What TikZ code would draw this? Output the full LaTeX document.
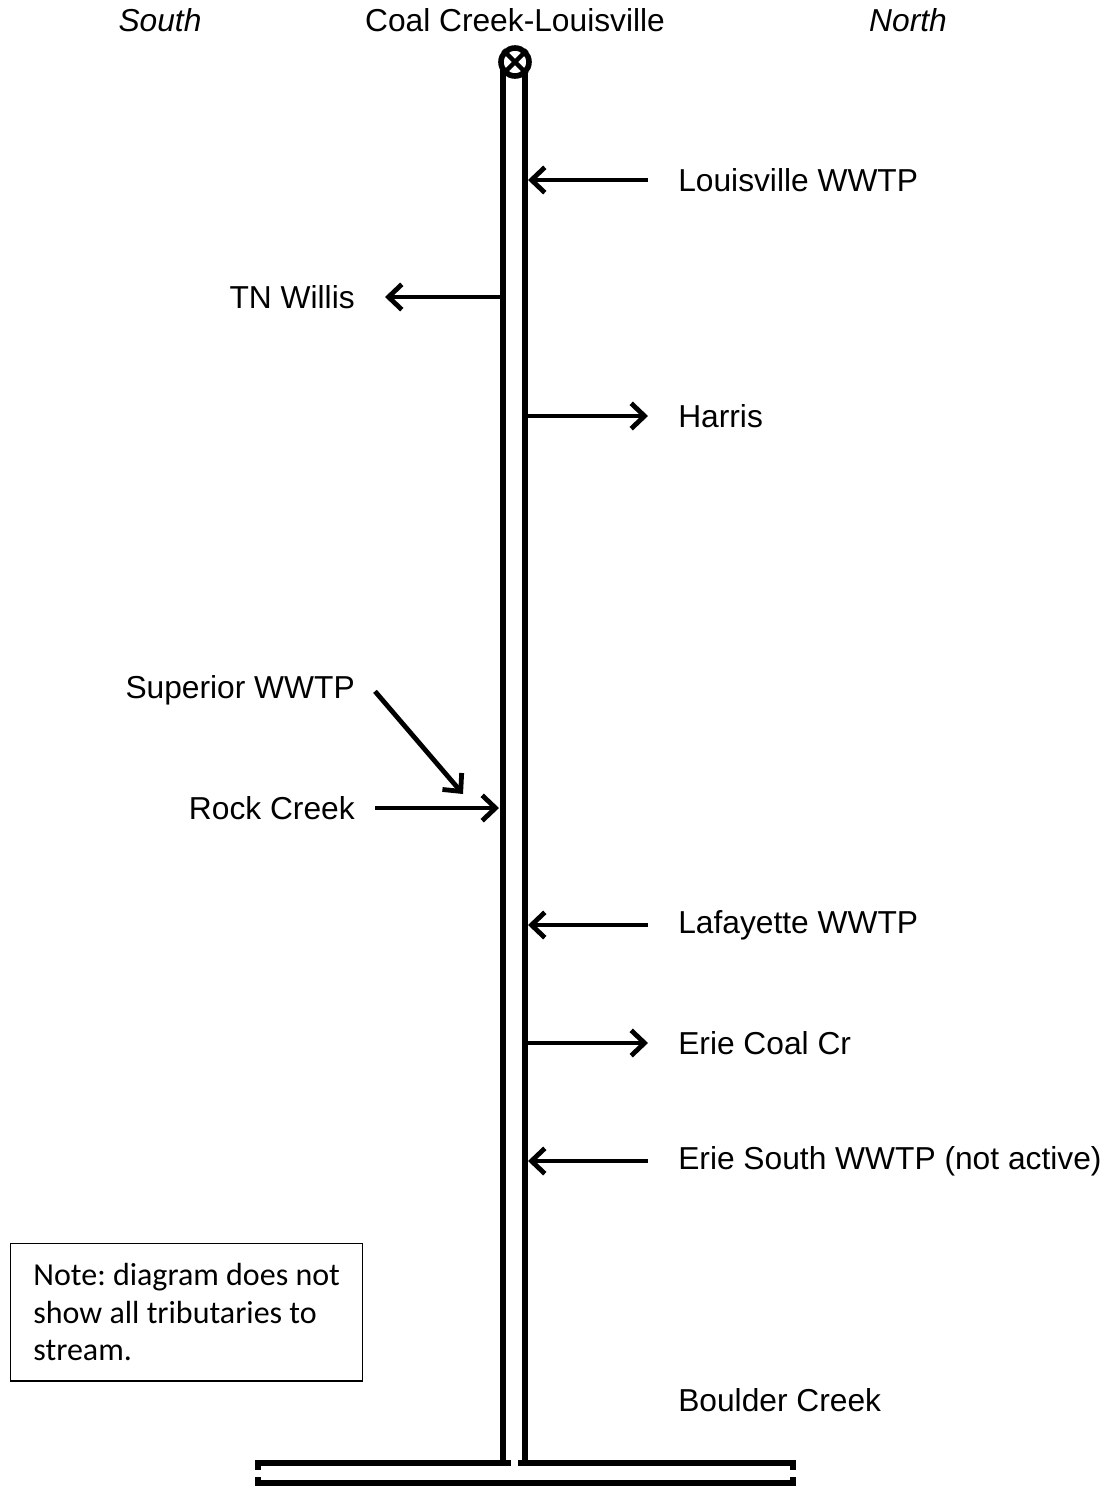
\documentclass[tikz,border=0pt]{standalone}
\usepackage{fontspec}
\setmainfont{Liberation Sans}
\newfontfamily\notefont{Carlito}
\usetikzlibrary{arrows.meta}
\frenchspacing
\begin{document}
\begin{tikzpicture}[x=0.75pt,y=-0.75pt,
  lbl/.style={inner sep=0pt, font=\fontsize{23.8}{28}\selectfont},
  arr/.style={line width=3.6pt, -{Straight Barb[length=10pt,width=19pt]}},
  bank/.style={line width=4.3pt},
  notebox/.style={draw, line width=1pt, anchor=north west, align=left,
    minimum width=264pt, minimum height=103pt, inner xsep=0pt,
    font=\notefont\fontsize{24}{28.2}\selectfont}]
\useasboundingbox (0,0) rectangle (1112,1488);

% headings
\node[lbl, font=\fontsize{23.8}{28}\selectfont\itshape] (south) at (160,20) {South};
\node[lbl] (title) at (515,20) {Coal Creek-Louisville};
\node[lbl, font=\fontsize{23.8}{28}\selectfont\itshape] (north) at (908,20) {North};

% stream banks
\coordinate (LT) at (503,62);  \coordinate (LB) at (503,1463);
\coordinate (RT) at (525,62);  \coordinate (RB) at (525,1463);
\draw[bank] (LT) -- (LB);
\draw[bank] (RT) -- (RB);

% Boulder Creek channel
\coordinate (CL1) at (258,1470); \coordinate (CL2) at (258,1463); \coordinate (CL3) at (511,1463);
\coordinate (CR1) at (518,1463); \coordinate (CR2) at (793,1463); \coordinate (CR3) at (793,1470);
\coordinate (DL1) at (258,1477); \coordinate (DL2) at (258,1483);
\coordinate (DR2) at (793,1483); \coordinate (DR1) at (793,1477);
\draw[bank] (CL1) -- (CL2) -- (CL3);
\draw[bank] (CR1) -- (CR2) -- (CR3);
\draw[bank] (DL1) -- (DL2) -- (DR2) -- (DR1);

% source symbol
\node[circle, draw, fill=white, line width=4.2pt, minimum size=21pt, inner sep=0pt] (src) at (515,62) {};
\draw[line width=3.4pt] (src.north west) -- (src.south east) (src.north east) -- (src.south west);

% right-side labels
\node[lbl, anchor=west] (louis) at (678,180) {Louisville WWTP};
\node[lbl, anchor=west] (harris) at (678,416) {Harris};
\node[lbl, anchor=west] (laf) at (678,925) {Lafayette WWTP};
\node[lbl, anchor=west] (eriec) at (678,1043) {Erie Coal Cr};
\node[lbl, anchor=west] (eries) at (678,1161) {Erie South WWTP (not active)};
\node[lbl, anchor=west] (boulder) at (678,1400) {Boulder Creek};

% left-side labels
\node[lbl, anchor=east] (tn) at (355,297) {TN Willis};
\node[lbl, anchor=east] (sup) at (355,690) {Superior WWTP};
\node[lbl, anchor=east] (rock) at (355,808) {Rock Creek};

% connectors
\coordinate (sL) at (528,180);
\coordinate (sH) at (527,416);
\coordinate (sLa) at (528,925);
\coordinate (sEc) at (527,1043);
\coordinate (sEs) at (528,1161);
\coordinate (sT) at (501,297);
\coordinate (sR) at (499,808);
\coordinate (sS) at (463,794);

\draw[arr, shorten <=22.5pt] (louis.west) -- (sL);
\draw[arr, shorten >=22.5pt] (sH) -- (harris.west);
\draw[arr, shorten <=22.5pt] (laf.west) -- (sLa);
\draw[arr, shorten >=22.5pt] (sEc) -- (eriec.west);
\draw[arr, shorten <=22.5pt] (eries.west) -- (sEs);
\draw[arr, shorten >=22.5pt] (sT) -- (tn.east);
\draw[arr, shorten <=15pt] (rock.east) -- (sR);
\draw[arr] ([xshift=15pt,yshift=-1pt]sup.east) -- (sS);

% note
\node[notebox] (note) at (10,1243) {Note: diagram does not\\ show all tributaries to\\ stream.};
\end{tikzpicture}
\end{document}
